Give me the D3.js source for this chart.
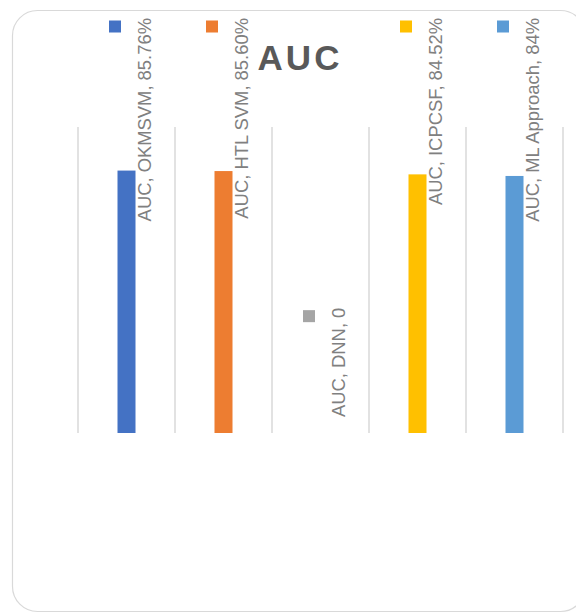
<!DOCTYPE html>
<meta charset="utf-8">
<style>
body { margin: 0; background: #fff; }
svg { display: block; }
.lbl { font: 18.4px "Liberation Sans", Arial, sans-serif; fill: #808080; }
.title { font: bold 35px "Liberation Sans", Arial, sans-serif; fill: #595959; letter-spacing: 3px; }
</style>
<body>
<script src="https://d3js.org/d3.v7.min.js"></script>
<script>
var series = "AUC";
var methods = ["OKMSVM", "HTL SVM", "DNN", "ICPCSF", "ML Approach"];
var values = [85.76, 85.60, 0, 84.52, 84];
var valueText = ["85.76%", "85.60%", "0", "84.52%", "84%"];
var colors = ["#4472C4", "#ED7D31", "#A5A5A5", "#FFC000", "#5B9BD5"];

var width = 576, height = 613;

var svg = d3.select("body").append("svg")
  .attr("width", width)
  .attr("height", height);

// chart frame
svg.append("rect")
  .attr("x", 12.5).attr("y", 10.5)
  .attr("width", 573).attr("height", 601)
  .attr("rx", 25).attr("ry", 25)
  .attr("fill", "#fff")
  .attr("stroke", "#d9d9d9")
  .attr("stroke-width", 1.2);

var x = d3.scaleBand()
  .domain(methods)
  .range([78, 563]);

var y = d3.scaleLinear()
  .domain([0, 100])
  .range([433, 127]);

// vertical gridlines at category boundaries
var bounds = methods.map(function(m) { return x(m); }).concat([x.range()[1]]);
svg.append("g").selectAll("line")
  .data(bounds)
  .enter().append("line")
  .attr("x1", function(d) { return d; })
  .attr("x2", function(d) { return d; })
  .attr("y1", y(100))
  .attr("y2", y(0))
  .attr("stroke", "#d9d9d9")
  .attr("stroke-width", 1.5);

var barW = 18;
svg.append("g").selectAll("rect")
  .data(methods)
  .enter().append("rect")
  .attr("x", function(d) { return x(d) + x.bandwidth() / 2 - barW / 2; })
  .attr("y", function(d, i) { return y(values[i]); })
  .attr("width", barW)
  .attr("height", function(d, i) { return y(0) - y(values[i]); })
  .attr("fill", function(d, i) { return colors[i]; });

// title
svg.append("text")
  .attr("class", "title")
  .attr("x", 300)
  .attr("y", 70)
  .attr("text-anchor", "middle")
  .text(series);

// data labels with legend key, rotated
var labels = svg.append("g");
methods.forEach(function(m, i) {
  var cx = x(m) + x.bandwidth() / 2;
  var g = labels.append("g");
  var t = g.append("text")
    .attr("class", "lbl")
    .text(series + ", " + m + ", " + valueText[i]);
  var len = t.node().getComputedTextLength();
  var start = y(values[i]) - 16;
  var end = start - len;
  if (end < 18) { end = 18; start = end + len; }
  t.attr("transform", "translate(" + (cx + 24) + "," + start + ") rotate(-90)");
  g.append("rect")
    .attr("x", cx - 11.5 - 6)
    .attr("y", end + 2.5)
    .attr("width", 12)
    .attr("height", 12)
    .attr("fill", colors[i]);
});
</script>
</body>
